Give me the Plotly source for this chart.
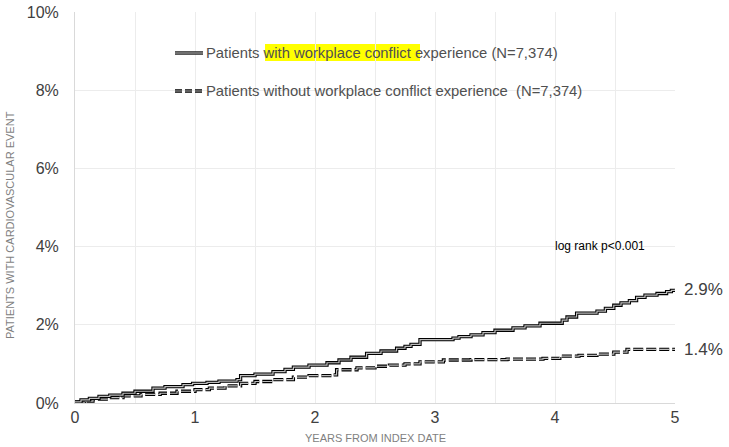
import plotly.graph_objects as go

# ---- data ----
years_with = [0, 0.05, 0.12, 0.2, 0.29, 0.4, 0.5, 0.65, 0.75, 0.9, 0.98, 1.1, 1.2, 1.35, 1.38, 1.5, 1.65, 1.75,
              1.82, 1.95, 2.1, 2.2, 2.3, 2.43, 2.55, 2.68, 2.75, 2.8, 2.875, 3.15, 3.2, 3.3, 3.4, 3.5, 3.65, 3.75,
              3.875, 4.06, 4.1, 4.18, 4.35, 4.42, 4.49, 4.55, 4.62, 4.68, 4.75, 4.85, 4.93, 4.97, 5.0]
pct_with = [0.03, 0.08, 0.12, 0.17, 0.2, 0.25, 0.3, 0.38, 0.42, 0.47, 0.5, 0.53, 0.56, 0.6, 0.7, 0.74, 0.8, 0.86,
            0.92, 0.97, 1.03, 1.1, 1.17, 1.27, 1.33, 1.4, 1.45, 1.5, 1.62, 1.66, 1.7, 1.74, 1.8, 1.86, 1.92, 1.97,
            2.04, 2.12, 2.2, 2.3, 2.35, 2.42, 2.5, 2.56, 2.62, 2.7, 2.76, 2.8, 2.85, 2.88, 2.9]

years_without = [0, 0.08, 0.15, 0.29, 0.4, 0.55, 0.71, 0.85, 1.0, 1.12, 1.25, 1.38, 1.5, 1.65, 1.82, 1.95, 2.15,
                 2.18, 2.35, 2.5, 2.62, 2.75, 2.875, 3.07, 3.3, 3.6, 3.9, 4.04, 4.2, 4.35, 4.49, 4.6, 5.0]
pct_without = [0.02, 0.05, 0.1, 0.14, 0.18, 0.22, 0.25, 0.3, 0.34, 0.38, 0.44, 0.5, 0.55, 0.6, 0.66, 0.7, 0.72,
               0.85, 0.9, 0.94, 0.97, 1.0, 1.05, 1.1, 1.11, 1.12, 1.14, 1.2, 1.22, 1.25, 1.3, 1.37, 1.37]

end_labels = ["2.9%", "1.4%"]
legend_with = "Patients with workplace conflict experience (N=7,374)"
legend_without = "Patients without workplace conflict experience \u00a0(N=7,374)"
x_ticks = [0, 1, 2, 3, 4, 5]
y_ticks = [0, 2, 4, 6, 8, 10]
y_tick_text = ["0%", "2%", "4%", "6%", "8%", "10%"]
x_title = "YEARS FROM INDEX DATE"
y_title = "PATIENTS WITH CARDIOVASCULAR EVENT"

FONT = "Liberation Sans, Arial, sans-serif"
DASH = "10px,3px"
OUTER_W, INNER_W, INNER_C = 3.3, 1.2, "#bdbdbd"

fig = go.Figure()

def double_line(x, y, dash):
    fig.add_trace(go.Scatter(x=x, y=y, mode="lines", line=dict(color="black", width=OUTER_W, shape="hv", dash=dash),
                             showlegend=False, hoverinfo="skip", cliponaxis=False))
    fig.add_trace(go.Scatter(x=x, y=y, mode="lines", line=dict(color=INNER_C, width=INNER_W, shape="hv", dash=dash),
                             showlegend=False, hoverinfo="skip", cliponaxis=False))

double_line(years_without, pct_without, DASH)
double_line(years_with, pct_with, "solid")

# end labels
fig.add_annotation(x=years_with[-1], y=pct_with[-1], text=end_labels[0], showarrow=False, xanchor="left",
                   xshift=7, font=dict(family=FONT, size=17, color="#404040"))
fig.add_annotation(x=years_without[-1], y=pct_without[-1], text=end_labels[1], showarrow=False, xanchor="left",
                   xshift=7, font=dict(family=FONT, size=17, color="#404040"))
fig.add_annotation(x=3.98, y=4.02, text="log rank p<0.001", showarrow=False, xanchor="left",
                   font=dict(family=FONT, size=12, color="black"))

# page pixel -> paper fraction (plot area 75..675 x, 12..403 y)
def px2x(px):
    return (px - 75) / 600.0

def px2y(py):
    return (403 - py) / 391.0

# axis titles as annotations
fig.add_annotation(xref="paper", yref="paper", x=px2x(375), y=px2y(438), text=x_title, showarrow=False,
                   xanchor="center", yanchor="middle", font=dict(family=FONT, size=11, color="#7f7f7f"))
fig.add_annotation(xref="paper", yref="paper", x=px2x(10), y=px2y(225), text=y_title, showarrow=False,
                   textangle=-90, xanchor="center", yanchor="middle", font=dict(family=FONT, size=11, color="#7f7f7f"))

# legend (custom)
fig.add_shape(type="rect", xref="paper", yref="paper", x0=px2x(265), x1=px2x(420), y0=px2y(61), y1=px2y(44),
              fillcolor="#ffff00", line=dict(width=0), layer="below")
for y_px, dash in [(53, "solid"), (91, "7px,3px")]:
    fig.add_shape(type="line", xref="paper", yref="paper", x0=px2x(175), x1=px2x(203), y0=px2y(y_px), y1=px2y(y_px),
                  line=dict(color="black", width=OUTER_W, dash=dash))
    fig.add_shape(type="line", xref="paper", yref="paper", x0=px2x(175), x1=px2x(203), y0=px2y(y_px), y1=px2y(y_px),
                  line=dict(color=INNER_C, width=INNER_W, dash=dash))
fig.add_annotation(xref="paper", yref="paper", x=px2x(204), y=px2y(53), text=legend_with, showarrow=False,
                   xanchor="left", yanchor="middle", font=dict(family=FONT, size=14.8, color="#505050"))
fig.add_annotation(xref="paper", yref="paper", x=px2x(204), y=px2y(91), text=legend_without, showarrow=False,
                   xanchor="left", yanchor="middle", font=dict(family=FONT, size=14.8, color="#505050"))

fig.update_layout(
    width=729, height=447,
    margin=dict(l=75, r=54, t=12, b=44, autoexpand=False),
    paper_bgcolor="white", plot_bgcolor="white",
    font=dict(family=FONT, color="#595959"),
    xaxis=dict(range=[0, 5], tickvals=x_ticks, showgrid=True, gridcolor="#ececec", gridwidth=1,
               minor=dict(dtick=0.5, showgrid=True, gridcolor="#ececec"), automargin=False,
               showline=True, linecolor="#d9d9d9", zeroline=False, ticks="", ticklabeloverflow="allow",
               tickfont=dict(size=16, color="#404040")),
    yaxis=dict(range=[0, 10], tickvals=y_ticks, ticktext=y_tick_text, showgrid=True, gridcolor="#ececec",
               showline=True, linecolor="#d9d9d9", zeroline=False, ticks="", automargin=False,
               ticklabeloverflow="allow", ticklabelstandoff=12,
               tickfont=dict(size=16, color="#404040")),
)

fig.write_html("out.html", config={"displayModeBar": False},
               post_script="document.body.style.margin='0';")
